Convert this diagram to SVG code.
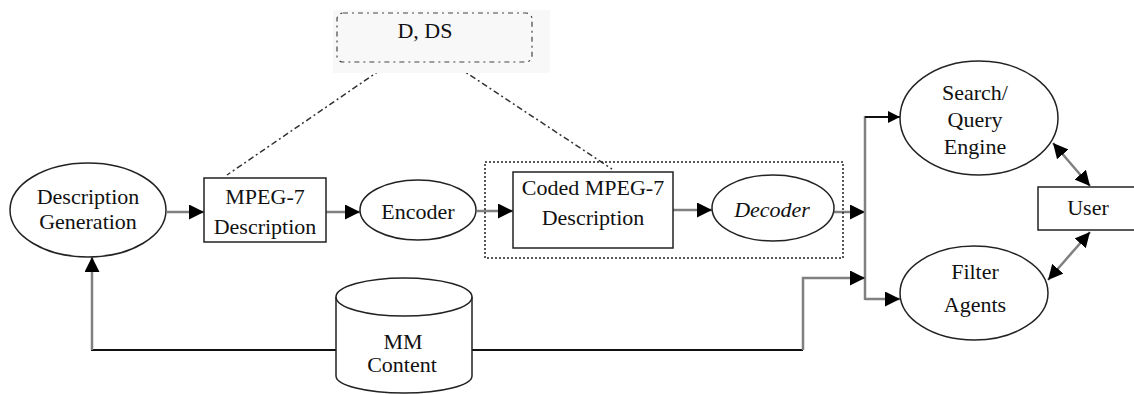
<svg xmlns="http://www.w3.org/2000/svg" width="1134" height="394" viewBox="0 0 1134 394">
<style>
.t{font-family:"Liberation Serif","DejaVu Serif","Times New Roman",serif;font-size:22px;fill:#111;text-anchor:middle}
.shape{fill:#fff;stroke:#222;stroke-width:1.5}
.conn{fill:none;stroke:#808080;stroke-width:2.5}
.blk{fill:none;stroke:#111;stroke-width:2}
.dash{fill:none;stroke:#333;stroke-width:1.5;stroke-dasharray:6,3,2,3}
</style>
<defs>
<marker id="ah" viewBox="0 0 10 10" refX="10" refY="5" markerWidth="6" markerHeight="6" orient="auto" markerUnits="strokeWidth">
<path d="M0,0 L10,5 L0,10 z" fill="#000"/>
</marker>
<marker id="ahs" viewBox="0 0 10 10" refX="0" refY="5" markerWidth="6" markerHeight="6" orient="auto" markerUnits="strokeWidth">
<path d="M10,0 L0,5 L10,10 z" fill="#000"/>
</marker>
</defs>
<rect width="1134" height="394" fill="#fff"/>

<g id="connectors">
<line class="dash" x1="392" y1="62" x2="227" y2="175"/>
<line class="dash" x1="447" y1="60" x2="612" y2="169"/>
<line class="conn" x1="167" y1="212" x2="204" y2="212" marker-end="url(#ah)"/>
<line class="conn" x1="326" y1="212" x2="360" y2="212" marker-end="url(#ah)"/>
<line class="conn" x1="477" y1="211" x2="513" y2="211" marker-end="url(#ah)"/>
<line class="conn" x1="673" y1="210" x2="712" y2="210" marker-end="url(#ah)"/>
<line class="conn" x1="833" y1="212" x2="865" y2="212" marker-end="url(#ah)"/>
<line class="conn" stroke-width="3" x1="865" y1="116" x2="865" y2="300"/>
<line class="blk" x1="865" y1="117" x2="900" y2="117" marker-end="url(#ah)"/>
<line class="conn" x1="865" y1="299" x2="900" y2="299" marker-end="url(#ah)"/>
<path class="blk" d="M336,350 H92 V300"/>
<path class="conn" d="M92,350 V257" marker-end="url(#ah)"/>
<path class="blk" d="M472,350 H803"/>
<path class="conn" d="M803,350 V278 H865" marker-end="url(#ah)"/>
<line class="conn" x1="1053" y1="143" x2="1090" y2="186" marker-start="url(#ahs)" marker-end="url(#ah)"/>
<line class="conn" x1="1048" y1="280" x2="1090" y2="232" marker-start="url(#ahs)" marker-end="url(#ah)"/>
</g>

<g id="d-ds">
<rect x="333" y="10" width="217" height="63" fill="#f8f8f8"/>
<rect x="337" y="13" width="195" height="49" rx="6" fill="none" stroke="#444" stroke-width="1.2" stroke-dasharray="5,4,2,4"/>
<text class="t" x="425" y="38">D, DS</text>
</g>

<g id="description-generation">
<ellipse class="shape" cx="88" cy="210" rx="78" ry="47"/>
<text class="t" x="88" y="204">Description</text>
<text class="t" x="88" y="229">Generation</text>
</g>

<g id="mpeg7-description">
<rect class="shape" x="204" y="178" width="122" height="64"/>
<text class="t" x="265" y="204">MPEG-7</text>
<text class="t" x="265" y="234">Description</text>
</g>

<g id="encoder">
<ellipse class="shape" cx="418" cy="210" rx="58" ry="30"/>
<text class="t" x="418" y="219">Encoder</text>
</g>

<g id="transmission">
<rect x="485" y="162" width="358" height="96" fill="none" stroke="#222" stroke-width="1.5" stroke-dasharray="2,2"/>
</g>

<g id="coded-mpeg7">
<rect class="shape" x="513" y="172" width="160" height="76"/>
<text class="t" x="593" y="195">Coded MPEG-7</text>
<text class="t" x="593" y="225">Description</text>
</g>

<g id="decoder">
<ellipse class="shape" cx="773" cy="208" rx="61" ry="33"/>
<text class="t" x="772" y="217" font-style="italic">Decoder</text>
</g>

<g id="search-engine">
<ellipse class="shape" cx="979" cy="118" rx="79" ry="57"/>
<text class="t" x="975" y="100">Search/</text>
<text class="t" x="975" y="127">Query</text>
<text class="t" x="975" y="154">Engine</text>
</g>

<g id="filter-agents">
<ellipse class="shape" cx="974" cy="293" rx="74" ry="47"/>
<text class="t" x="975" y="279">Filter</text>
<text class="t" x="975" y="312">Agents</text>
</g>

<g id="user">
<rect class="shape" x="1038" y="187" width="100" height="43"/>
<text class="t" x="1088" y="215">User</text>
</g>

<g id="mm-content">
<path class="shape" d="M336,297 V376 A68,17 0 0 0 472,376 V297 A68,19 0 0 0 336,297 Z"/>
<path fill="none" stroke="#222" stroke-width="1.5" d="M336,297 A68,19 0 0 0 472,297"/>
<text class="t" x="403" y="349">MM</text>
<text class="t" x="402" y="372">Content</text>
</g>
</svg>
